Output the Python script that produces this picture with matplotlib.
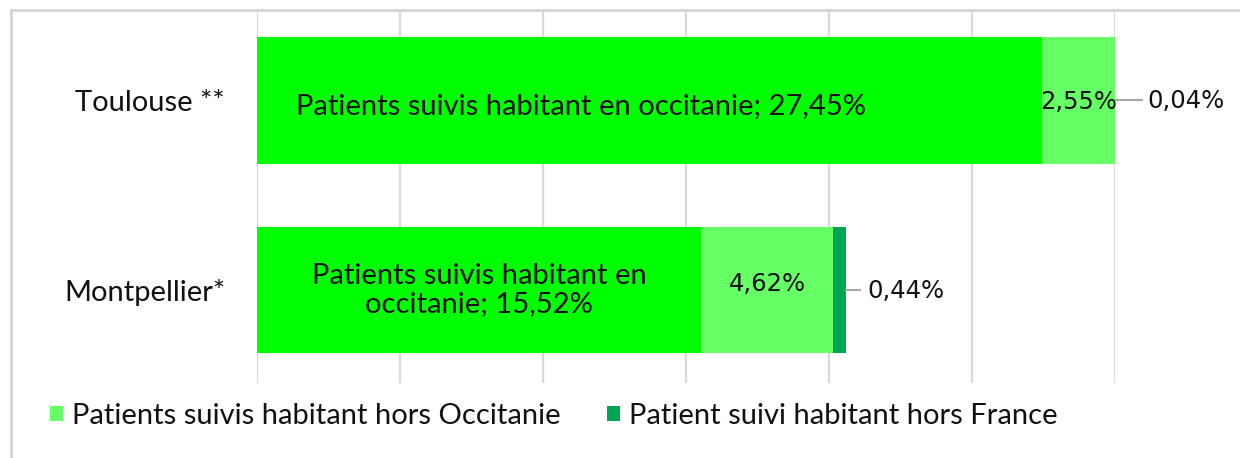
import matplotlib
matplotlib.use("Agg")
import matplotlib.pyplot as plt
from matplotlib.lines import Line2D
from matplotlib.patches import Patch

# data (percent of patients)
cities = ["Montpellier*", "Toulouse **"]
in_occitanie = [15.52, 27.45]
out_occitanie = [4.62, 2.55]
out_france = [0.44, 0.04]

series_names = [
    "Patients suivis habitant en occitanie",
    "Patients suivis habitant hors Occitanie",
    "Patient suivi habitant hors France",
]
colors = ["#00FF00", "#66FF66", "#00A651"]

LABEL_FONT = ["Lato", "DejaVu Sans"]
NUM_FONT = ["DejaVu Sans"]
FS = 21
NFS = 17.5


def fmt(v):
    return f"{v:.2f}".replace(".", ",") + "%"


fig = plt.figure(figsize=(12.4, 4.58), dpi=100)
ax = fig.add_axes([257 / 1240, 1 - 383 / 458, (1115 - 257) / 1240, (383 - 11) / 458])

ypos = list(range(len(cities)))
h = 0.668
left2 = in_occitanie
left3 = [a + b for a, b in zip(in_occitanie, out_occitanie)]
ax.barh(ypos, in_occitanie, height=h, color=colors[0], zorder=2)
ax.barh(ypos, out_occitanie, left=left2, height=h, color=colors[1], zorder=2)
ax.barh(ypos, out_france, left=left3, height=h, color=colors[2], zorder=2)

ax.set_xlim(0, 30)
ax.set_ylim(-0.49, 1.47)
ax.set_xticks(range(0, 31, 5))
ax.xaxis.grid(True, color="#D9D9D9", linewidth=1.6, zorder=0)
ax.tick_params(axis="x", length=0, labelbottom=False)
ax.tick_params(axis="y", length=0, pad=23)
ax.set_yticks(ypos)
ax.set_yticklabels(cities, fontsize=FS, family=LABEL_FONT, color="#111111")
for s in ax.spines.values():
    s.set_visible(False)

# labels inside first segment
ax.text(in_occitanie[1] * 0.413, 1 - 0.03,
        f"{series_names[0]}; {fmt(in_occitanie[1])}",
        ha="center", va="center", fontsize=FS, family=LABEL_FONT, color="#111111")
ax.text(in_occitanie[0] / 2, 0.0,
        "Patients suivis habitant en\noccitanie; " + fmt(in_occitanie[0]),
        ha="center", va="center", fontsize=FS, family=LABEL_FONT,
        color="#111111", linespacing=1.08)

# labels second segment
ax.text(left2[1] + out_occitanie[1] / 2, 1 - 0.01, fmt(out_occitanie[1]),
        ha="center", va="center", fontsize=NFS, family=NUM_FONT, color="#111111")
ax.text(left2[0] + out_occitanie[0] / 2, 0.03, fmt(out_occitanie[0]),
        ha="center", va="center", fontsize=NFS, family=NUM_FONT, color="#111111")

# labels third segment with leader lines
totals = [l + v for l, v in zip(left3, out_france)]
for i, (t, gap, off) in enumerate(zip(totals, [0.5, 0.9], [0.75, 1.1])):
    ax.add_line(Line2D([t, t + gap], [i, i], color="#A6A6A6", linewidth=1.5, clip_on=False))
    ax.text(t + off, i - 0.005, fmt(out_france[i]), ha="left", va="center",
            fontsize=NFS, family=NUM_FONT, color="#111111", clip_on=False)

# legend (only the two outer series)
handles = [Patch(facecolor=colors[1]), Patch(facecolor=colors[2])]
fig.legend(handles, series_names[1:], loc="center left",
           bbox_to_anchor=(50 / 1240, 1 - 416 / 458), ncol=2, frameon=False,
           prop={"family": LABEL_FONT, "size": FS}, handlelength=0.45,
           handleheight=0.45, handletextpad=0.3, columnspacing=1.6,
           borderpad=0, borderaxespad=0, labelcolor="#111111")

# outer frame (top and left visible)
fig.add_artist(Line2D([11 / 1240, 1], [1 - 10 / 458] * 2, color="#D4D4D4", linewidth=2))
fig.add_artist(Line2D([11 / 1240] * 2, [0, 1 - 10 / 458], color="#D4D4D4", linewidth=2))

fig.savefig("out.png", dpi=100, facecolor="white")
